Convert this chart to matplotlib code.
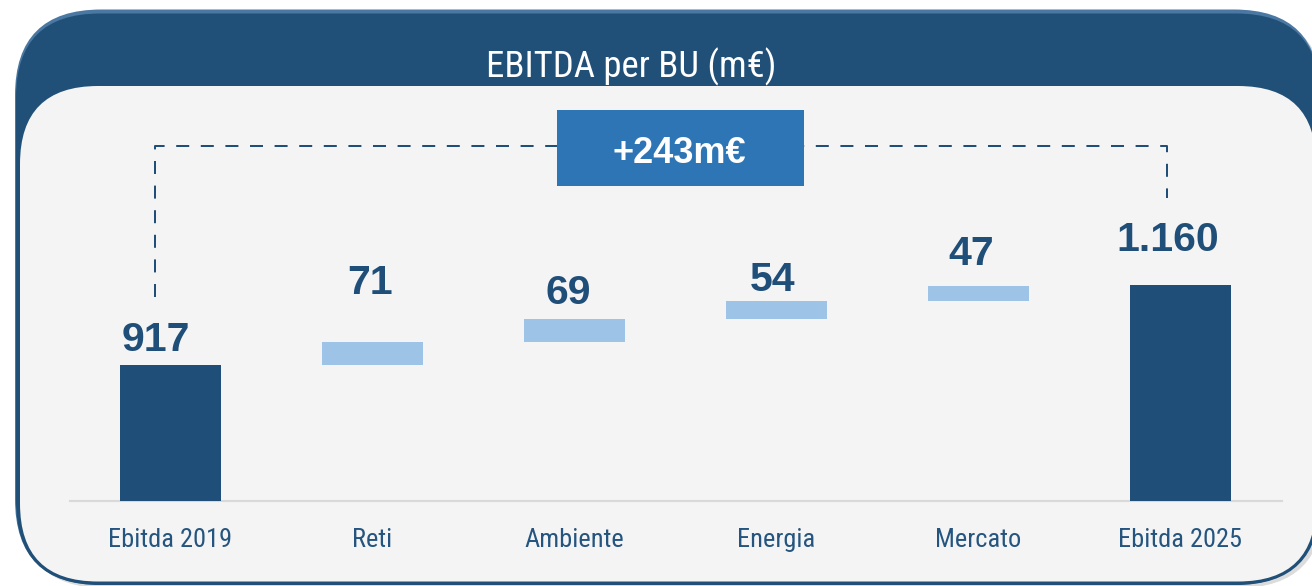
import matplotlib
matplotlib.use("Agg")
import matplotlib.pyplot as plt
from matplotlib.patches import FancyBboxPatch, Rectangle
from matplotlib import font_manager

# ---------------- data ----------------
categories = ["Ebitda 2019", "Reti", "Ambiente", "Energia", "Mercato", "Ebitda 2025"]
start_value = 917
deltas = [71, 69, 54, 47]
end_value = 1160
value_labels = ["917", "71", "69", "54", "47", "1.160"]
title = "EBITDA per BU (m€)"

# ---------------- style ----------------
DARK = "#1f4e79"
FRAME = "#204f78"
FRAME_LIGHT = "#4a78a2"
LIGHT = "#9dc3e6"
BOX = "#2e75b6"
PANEL = "#f4f4f4"
TICK_COLOR = "#25557f"
BOLD = ["Liberation Sans", "DejaVu Sans"]

names = {f.name for f in font_manager.fontManager.ttflist}
narrow_candidates = ["Roboto Condensed", "Liberation Sans Narrow", "Arial Narrow",
                     "Archivo Narrow", "Asap Condensed"]
NARROW_NAME = next((n for n in narrow_candidates if n in names), None)

W, H = 1312, 586
fig = plt.figure(figsize=(W / 100, H / 100), dpi=100)
fig.patch.set_facecolor("white")

# background frame (pixel coordinates)
bg = fig.add_axes([0, 0, 1, 1])
bg.set_xlim(0, W)
bg.set_ylim(H, 0)
bg.axis("off")
bg.add_patch(FancyBboxPatch((19, 14), 1305, 574, boxstyle="round,pad=0,rounding_size=86",
                            fc="#dcdcdc", ec="none"))
bg.add_patch(FancyBboxPatch((15, 9.5), 1305, 575.5, boxstyle="round,pad=0,rounding_size=86",
                            fc=FRAME_LIGHT, ec="none"))
bg.add_patch(FancyBboxPatch((16, 13.5), 1304, 571.5, boxstyle="round,pad=0,rounding_size=84",
                            fc=FRAME, ec="none"))
bg.add_patch(FancyBboxPatch((20, 86), 1296, 495.5, boxstyle="round,pad=0,rounding_size=78",
                            fc=PANEL, ec="none"))
if NARROW_NAME:
    title_kw = dict(family=[NARROW_NAME, "DejaVu Sans"], fontsize=26.5, fontweight="normal")
    tick_kw = dict(family=[NARROW_NAME, "DejaVu Sans"], fontsize=19)
else:
    title_kw = dict(family=["Liberation Sans", "DejaVu Sans"], fontsize=24)
    tick_kw = dict(family=["Liberation Sans", "DejaVu Sans"], fontsize=17)
bg.text(631, 77, title, color="white", ha="center", va="baseline", **title_kw)

# ---------------- chart axes ----------------
base_px, top_px = 501, 86
left_px, right_px = 69.5, 1281.5
ax = fig.add_axes([left_px / W, (H - base_px) / H, (right_px - left_px) / W,
                   (base_px - top_px) / H])
ax.patch.set_alpha(0)

y_min = 503.9
px_per_unit = 80 / 243.0
y_max = y_min + (base_px - top_px) / px_per_unit
ax.set_xlim(-0.5, len(categories) - 0.5)
ax.set_ylim(y_min, y_max)

x = list(range(len(categories)))
ax.bar([x[0], x[-1]], [start_value, end_value], width=0.5, color=DARK, zorder=3)
bottoms = []
cum = start_value
for d in deltas:
    bottoms.append(cum)
    cum += d
ax.bar(x[1:-1], deltas, bottom=bottoms, width=0.5, color=LIGHT, zorder=3)

tops = [start_value] + [b + d for b, d in zip(bottoms, deltas)] + [end_value]
label_offsets = [(-15, 14), (-2, 48), (-6.5, 15), (-3.5, 10.5), (-7, 21), (-12.5, 34)]
for xi, top, lab, (dx, dy) in zip(x, tops, value_labels, label_offsets):
    ax.annotate(lab, (xi, top), xytext=(dx, dy), textcoords="offset pixels",
                ha="center", va="baseline", fontsize=29.5, fontweight="bold",
                color=DARK, family=BOLD, zorder=4)

bracket_level = 1582
left_end, right_end = 1124, 1424
bx0 = x[0] - 0.076
bx1 = x[-1] - 0.068
ax.plot([bx0, bx0, bx1, bx1], [left_end, bracket_level, bracket_level, right_end],
        color=DARK, lw=2 * 0.72, dashes=(6.5, 5.8), solid_capstyle="butt",
        dash_capstyle="butt", zorder=2)

box_x0, box_x1 = 1.913, 3.136
box_y0, box_y1 = 1460.8, 1691.6
ax.add_patch(Rectangle((box_x0, box_y0), box_x1 - box_x0, box_y1 - box_y0,
                       fc=BOX, ec="none", zorder=3))
ax.text((box_x0 + box_x1) / 2 - 0.005, 1530.6, f"+{end_value - start_value}m€",
        ha="center", va="baseline", fontsize=26, fontweight="bold",
        color="white", family=BOLD, zorder=4)

for s in ["top", "left", "right"]:
    ax.spines[s].set_visible(False)
ax.spines["bottom"].set_color("#d9d9d9")
ax.spines["bottom"].set_linewidth(1.5)
ax.set_yticks([])
ax.set_xticks(x)
ax.set_xticklabels(categories, color=TICK_COLOR, **tick_kw)
for t in ax.get_xticklabels():
    t.set_va("baseline")
ax.tick_params(axis="x", length=0, pad=(547 - base_px) * 0.72)

fig.savefig("out.png", dpi=100)
